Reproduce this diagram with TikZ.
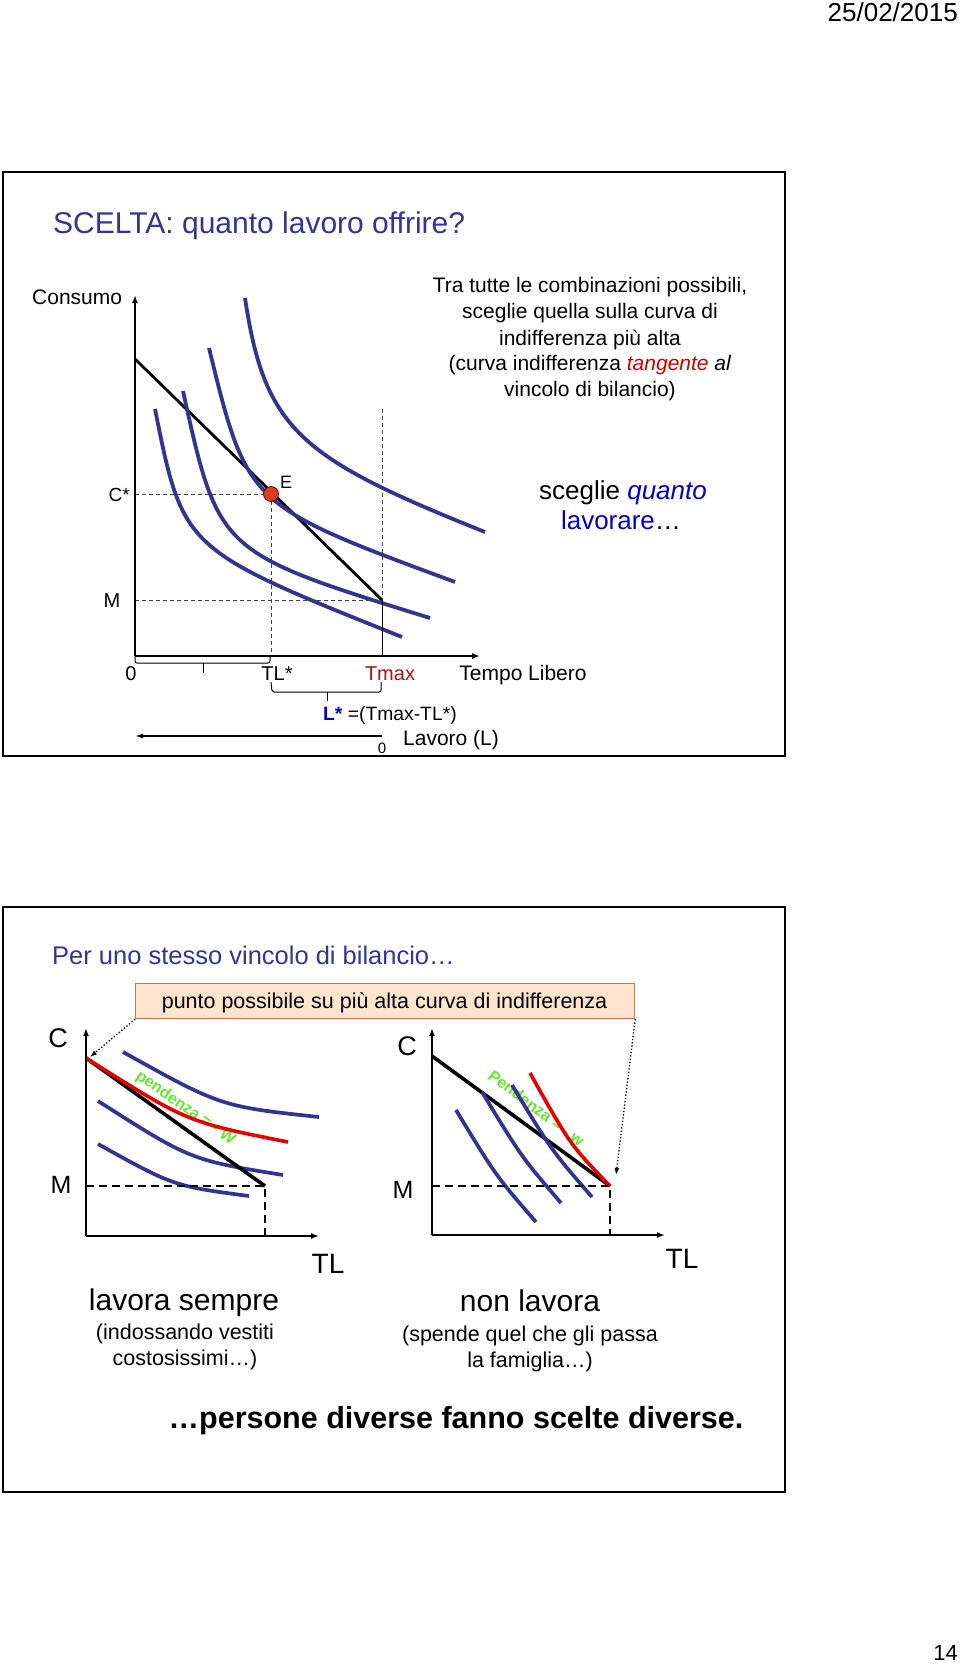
\documentclass[tikz,border=0pt]{standalone}
\usepackage{fontspec}
\setmainfont{Liberation Sans}
\usetikzlibrary{arrows.meta}
\definecolor{navy}{RGB}{51,51,153}
\definecolor{curveblue}{RGB}{51,51,145}
\definecolor{tred}{RGB}{204,0,0}
\definecolor{tmaxred}{RGB}{170,20,20}
\definecolor{brightblue}{RGB}{0,0,204}
\definecolor{pgreen}{RGB}{102,230,51}
\definecolor{boxfill}{RGB}{252,228,206}
\definecolor{boxdraw}{RGB}{190,125,75}
\definecolor{edot}{RGB}{215,65,30}
\definecolor{redcurve}{RGB}{230,0,0}
\newcommand\myfs[1]{\fontsize{#1}{#1}\selectfont}
\begin{document}
\begin{tikzpicture}[x=1pt,y=-1pt,
  txt/.style={inner sep=0pt, anchor=base},
  frame/.style={draw=black, line width=2.5pt},
  icurve/.style={draw=curveblue, line width=3.8pt},
  bcurve/.style={draw=curveblue, line width=3.7pt},
  rcurve/.style={draw=redcurve, line width=3.6pt},
  budget/.style={draw=black, line width=2.8pt},
  budgetb/.style={draw=black, line width=3.6pt},
  axis/.style={draw=black, line width=1.8pt, -{Latex[length=8pt,width=6pt]}},
  guide/.style={draw=black!75, line width=1pt, dash pattern=on 4pt off 3pt},
  guideb/.style={draw=black, line width=1.8pt, dash pattern=on 8pt off 5pt},
  thinline/.style={draw=black, line width=1pt},
  callarrow/.style={draw=black, line width=1.3pt, dotted, -{Latex[length=7pt,width=5pt]}},
  slope/.style={inner sep=0pt, anchor=base west, text=pgreen, font=\bfseries\myfs{16}}
]
\useasboundingbox (0,0) rectangle (960,1665);
\fill[white] (0,0) rectangle (960,1665);

% header / footer
\node[txt, anchor=base east, font=\myfs{26}] (date) at (958,21) {25/02/2015};
\node[txt, anchor=base east, font=\myfs{22}] (pg) at (958,1660) {14};

% ================= TOP SLIDE =================
\draw[frame] (3,172) rectangle (785,756);
\node[txt, anchor=base west, text=navy, font=\myfs{30}] (title) at (53,233) {SCELTA: quanto lavoro offrire?};
\node[txt, anchor=base west, font=\myfs{21}] (consumo) at (32,304) {Consumo};

\node[txt, font=\myfs{21}] (l1) at (590,292) {Tra tutte le combinazioni possibili,};
\node[txt, font=\myfs{21}] (l2) at (590,318.5) {sceglie quella sulla curva di};
\node[txt, font=\myfs{21}] (l3) at (590,345) {indifferenza più alta};
\node[txt, font=\myfs{21}] (l4) at (590,370.5) {(curva indifferenza \textcolor{tred}{\itshape tangente} \textit{al}};
\node[txt, font=\myfs{21}] (l5) at (590,396.5) {vincolo di bilancio)};
\node[txt, font=\myfs{26}] (sq) at (623,499) {sceglie \textcolor{brightblue}{\itshape quanto}};
\node[txt, font=\myfs{26}] (lav) at (621,529) {\textcolor{brightblue}{lavorare}…};

% coordinates
\coordinate (O) at (135,656);
\coordinate (Ytip) at (135,295);
\coordinate (Xtip) at (480,656);
\coordinate (Bstart) at (135,359);
\coordinate (Bend) at (382,600);
\coordinate (Mleft) at (135,600);
\coordinate (Ctop) at (135,494);
\coordinate (Ebot) at (271,656);
\coordinate (Ttop) at (382,409);
\coordinate (Tbot) at (382,656);

% budget line
\draw[budget] (Bstart) -- (Bend);
% indifference curves
\draw[icurve] (155,409) .. controls (183.1,549.4) and (183.1,549.4) .. (402,637);
\draw[icurve] (183,391) .. controls (218.5,552.4) and (218.5,552.4) .. (430,618);
\draw[icurve] (209,348) .. controls (247.4,505.2) and (247.4,505.2) .. (455,582);
\draw[icurve] (245,298) .. controls (264.8,430) and (299.7,457.9) .. (485,532);

% guides
\draw[guide] (Ctop) -- (271,494);
\draw[guide] (271,494) -- (Ebot);
\draw[guide] (Mleft) -- (Bend);
\draw[guide] (Ttop) -- (Bend);
\draw[thinline] (Bend) -- (Tbot);

% axes
\draw[axis] (O) -- (Ytip);
\draw[axis] (O) -- (Xtip);

% equilibrium
\node[circle, fill=edot, draw=black!60!red, line width=0.8pt, minimum size=15pt, inner sep=0pt] (E) at (271,494) {};
\node[txt, anchor=base west, font=\myfs{18}] (Elab) at (280,488) {E};
\node[txt, anchor=base east, font=\myfs{19}] (Cstar) at (130,501) {C*};
\node[txt, font=\myfs{20}] (Mlab) at (112,607) {M};

% axis labels
\node[txt, font=\myfs{20}] (zero) at (131,680) {0};
\node[txt, font=\myfs{20}] (TLs) at (277,680) {TL*};
\node[txt, font=\myfs{20}, text=tmaxred] (Tmax) at (390,680) {Tmax};
\node[txt, font=\myfs{21}] (TL) at (523,680) {Tempo Libero};

% braces
\draw[thinline, rounded corners=2pt] (135,655) -- (135,663) -- (270,663) -- (270,655);
\draw[thinline] (203,663) -- (203,673);
\draw[thinline, rounded corners=2pt] (271,682) -- (272,692) -- (381,692) -- (381,682);
\draw[thinline] (327,692) -- (327,701);

\node[txt, anchor=base west, font=\myfs{19.3}] (Lstar) at (323,720) {\textcolor{brightblue}{\bfseries L*} =(Tmax-TL*)};
\coordinate (Lz) at (382,736);
\coordinate (Lend) at (135,736);
\draw[line width=1.5pt, -{Latex[length=8pt,width=5pt]}] (Lz) -- (Lend);
\node[txt, font=\myfs{15}] (zeroL) at (382,753) {0};
\node[txt, anchor=base west, font=\myfs{21}] (Lavoro) at (403,745) {Lavoro (L)};

% ================= BOTTOM SLIDE =================
\draw[frame] (3,907) rectangle (785,1492);
\node[txt, anchor=base west, text=navy, font=\myfs{25.5}] (sub) at (52,964) {Per uno stesso vincolo di bilancio…};
\node[draw=boxdraw, fill=boxfill, line width=1.2pt, minimum width=499pt, minimum height=35pt, inner sep=0pt, anchor=north west] (callout) at (135,983) {};
\node[txt, font=\myfs{21.5}] (calltxt) at (384.5,1008) {punto possibile su più alta curva di indifferenza};

% --- left graph ---
\coordinate (LO) at (86,1236);
\coordinate (LY) at (86,1028);
\coordinate (LX) at (319,1236);
\coordinate (LB1) at (86,1058);
\coordinate (LB2) at (265,1186);
\coordinate (LM) at (86,1186);
\coordinate (LT) at (265,1236);

\node[slope, rotate=-35] (lslope) at (135,1078) {pendenza = - W};
\draw[bcurve] (123,1052) .. controls (221,1106.5) .. (319,1117);
\draw[bcurve] (98,1101) .. controls (190.5,1160) .. (283,1175);
\draw[bcurve] (98,1144) .. controls (173.5,1186) .. (249,1196);
\draw[budgetb] (LB1) -- (LB2);
\draw[rcurve] (86,1058) .. controls (187,1122) .. (288,1142);
\draw[guideb] (LM) -- (LB2) -- (LT);
\draw[axis] (LO) -- (LY);
\draw[axis] (LO) -- (LX);
\node[txt, font=\myfs{27}] (LC) at (58,1047) {C};
\node[txt, font=\myfs{25}] (LMl) at (61,1193) {M};
\node[txt, font=\myfs{28}] (LTL) at (328,1273) {TL};

% --- right graph ---
\coordinate (RO) at (432,1235);
\coordinate (RY) at (432,1028);
\coordinate (RX) at (665,1235);
\coordinate (RB1) at (432,1056);
\coordinate (RB2) at (610,1186);
\coordinate (RM) at (432,1186);
\coordinate (RT) at (610,1235);

\node[slope, rotate=-37] (rslope) at (487,1078) {Pendenza = - w};
\draw[budgetb] (RB1) -- (RB2);
\draw[bcurve] (456,1110) .. controls (496,1176) .. (536,1222);
\draw[bcurve] (482,1092) .. controls (521.5,1157) .. (561,1203);
\draw[bcurve] (512,1085) .. controls (552,1151) .. (592,1197);
\draw[rcurve] (530,1073) .. controls (570,1144.5) .. (610,1186);
\draw[guideb] (RM) -- (RB2) -- (RT);
\draw[axis] (RO) -- (RY);
\draw[axis] (RO) -- (RX);
\node[txt, font=\myfs{27}] (RC) at (407,1055) {C};
\node[txt, font=\myfs{25}] (RMl) at (403,1198) {M};
\node[txt, font=\myfs{28}] (RTL) at (682,1268) {TL};

% callout arrows
\coordinate (Lpt) at (90,1057);
\coordinate (Rpt) at (616,1175);
\draw[callarrow] (callout.south west) -- (Lpt);
\draw[callarrow] (callout.south east) -- (Rpt);

% captions
\node[txt, font=\myfs{30}] (cap1) at (184,1310) {lavora sempre};
\node[txt, font=\myfs{21.5}] (cap1a) at (185,1339) {(indossando vestiti};
\node[txt, font=\myfs{21.5}] (cap1b) at (185,1365) {costosissimi…)};
\node[txt, font=\myfs{30}] (cap2) at (530,1311.7) {non lavora};
\node[txt, font=\myfs{21.5}] (cap2a) at (530,1341.7) {(spende quel che gli passa};
\node[txt, font=\myfs{21.5}] (cap2b) at (530,1367) {la famiglia…)};
\node[txt, font=\bfseries\myfs{30.5}] (concl) at (456,1428) {…persone diverse fanno scelte diverse.};
\end{tikzpicture}
\end{document}
